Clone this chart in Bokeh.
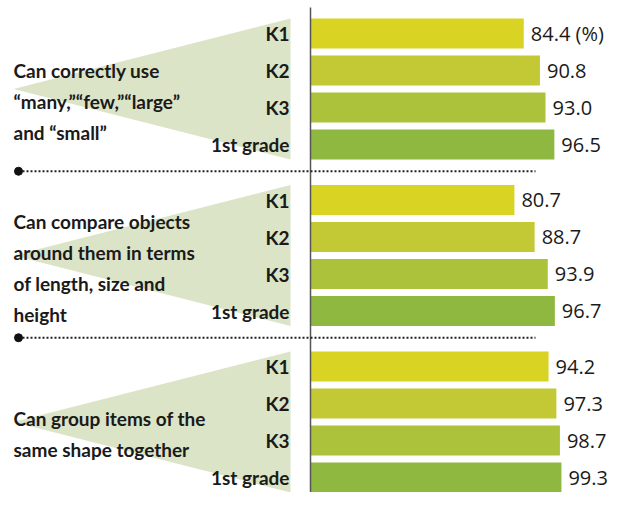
from bokeh.plotting import figure
from bokeh.models import Range1d, ColumnDataSource
from bokeh.core.properties import value
from bokeh.embed import file_html
from bokeh.resources import INLINE

# ---- data ----
grades = ["K1", "K2", "K3", "1st grade"]
skill_use_words = ["Can correctly use", "\u201cmany,\u201d\u201cfew,\u201d\u201clarge\u201d", "and \u201csmall\u201d"]
skill_compare = ["Can compare objects", "around them in terms", "of length, size and", "height"]
skill_group = ["Can group items of the", "same shape together"]
use_words_pct = [84.4, 90.8, 93.0, 96.5]
compare_pct = [80.7, 88.7, 93.9, 96.7]
group_pct = [94.2, 97.3, 98.7, 99.3]
grade_colors = ["#d9d324", "#c2c934", "#adc23b", "#8fb840"]

skills = [skill_use_words, skill_compare, skill_group]
pcts = [use_words_pct, compare_pct, group_pct]

# ---- layout (screen px) ----
W, H = 609, 492
K = 2.527          # px per percentage point
X0 = 310           # screen x of 0 %
GROUP_TOP = 18
GROUP_STEP = 166.5
BAR_STEP = 37
BAR_H = 30
TRI_LEFT = 13
TRI_RIGHT = 290
LINE_H = 31
TEXT_OFF = 12
TXT = "#1a1a1a"
BOLD_FONT = "Lato"

p = figure(width=W, height=H,
           x_range=Range1d(-X0 / K, (W - X0) / K),
           y_range=Range1d(H, 0),
           x_axis_type=None, y_axis_type=None,
           output_backend="svg", toolbar_location=None,
           min_border=0, outline_line_color=None,
           background_fill_color="white", border_fill_color="white")
p.grid.visible = False
p.extra_x_ranges = {"px": Range1d(0, W)}

bar_y, bar_v, bar_c, bar_t = [], [], [], []
cat_y, cat_t = [], []
tri_xs, tri_ys = [], []
sk_x, sk_y, sk_t = [], [], []
sep_y = []
span = 3 * BAR_STEP + BAR_H
for g, (vals, lines) in enumerate(zip(pcts, skills)):
    top = GROUP_TOP + g * GROUP_STEP
    mid = top + span / 2
    tri_xs.append([TRI_LEFT, TRI_RIGHT, TRI_RIGHT])
    tri_ys.append([mid, top, top + span])
    for k, (gr, v) in enumerate(zip(grades, vals)):
        cy = top + BAR_H / 2 + k * BAR_STEP
        bar_y.append(cy)
        bar_v.append(v)
        bar_c.append(grade_colors[k])
        lab = f"{v:.1f}"
        if g == 0 and k == 0:
            lab += " (%)"
        bar_t.append(lab)
        cat_y.append(cy)
        cat_t.append(gr)
    n = len(lines)
    for i, ln in enumerate(lines):
        sk_x.append(TRI_LEFT)
        sk_y.append(mid + TEXT_OFF + (i - (n - 1) / 2) * LINE_H)
        sk_t.append(ln)
    if g > 0:
        prev_bottom = top - GROUP_STEP + span
        sep_y.append((prev_bottom + top) / 2 - 1)

# triangles
p.patches(xs=tri_xs, ys=tri_ys, fill_color="#dbe4c6", line_color=None, x_range_name="px")

# bars
src = ColumnDataSource(dict(y=bar_y, v=bar_v, c=bar_c, t=bar_t))
p.hbar(y="y", left=0, right="v", height=BAR_H, fill_color="c", line_color=None, source=src)
p.text(x="v", y="y", text="t", source=src, x_offset=7, text_baseline="middle",
       text_font=value("Open Sans"), text_font_size="20px", text_color=TXT)

# axis line
p.segment(x0=[0], y0=[7], x1=[0], y1=[H + 5], line_color="#555555", line_width=1.5)

# separators
p.segment(x0=[18] * len(sep_y), y0=sep_y, x1=[535] * len(sep_y), y1=sep_y,
          line_color="#222222", line_width=2, line_dash="2 2", x_range_name="px")
p.scatter(x=[18] * len(sep_y), y=sep_y, size=8, color="#111111", x_range_name="px")

# grade labels
p.text(x=[TRI_RIGHT - 1] * len(cat_y), y=cat_y, text=cat_t, x_range_name="px",
       text_align="right", text_baseline="middle",
       text_font=value(BOLD_FONT), text_font_style="bold",
       text_font_size="19px", text_color=TXT)

# skill labels
p.text(x=sk_x, y=sk_y, text=sk_t, x_range_name="px",
       text_align="left", text_baseline="alphabetic",
       text_font=value(BOLD_FONT), text_font_style="bold",
       text_font_size="19px", text_color=TXT)

open("out.html", "w").write(file_html(p, INLINE))
